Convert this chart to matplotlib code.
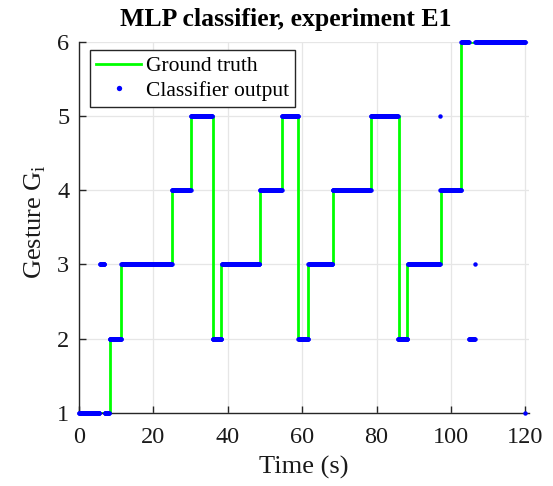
import numpy as np
import matplotlib
matplotlib.use("Agg")
import matplotlib.pyplot as plt

# ---------------- data ----------------
# ground truth gesture: switch times (s) and label held from each time
gt_times = [0, 8.2, 11.3, 25.0, 30.1, 35.9, 38.3, 48.7, 54.6, 58.9, 61.6,
            68.2, 78.5, 86.0, 88.3, 97.4, 102.8, 120.0]
gt_labels = [1, 2, 3, 4, 5, 2, 3, 4, 5, 2, 3, 4, 5, 2, 3, 4, 6]

# classifier output: change times (s) and label held from each time
clf_times = [0, 5.6, 6.9, 8.2, 11.4, 25.0, 30.1, 35.9, 38.4, 48.6, 54.6,
             59.0, 61.7, 68.2, 78.5, 85.8, 88.4, 97.05, 97.15, 102.8,
             104.85, 106.45, 106.55, 119.95]
clf_labels = [1, 3, 1, 2, 3, 4, 5, 2, 3, 4, 5, 2, 3, 4, 5, 2, 3, 5, 4, 6,
              2, 3, 6, 1]
sample_period = 0.1  # classifier output rate (s)

x_ticks = [0, 20, 40, 60, 80, 100, 120]
y_ticks = [1, 2, 3, 4, 5, 6]

# ---------------- samples of classifier ----------------
t_clf = np.arange(0, 120 + sample_period / 2, sample_period)
idx = np.searchsorted(clf_times, t_clf + 1e-9, side="right") - 1
y_clf = np.array(clf_labels)[idx]

# ---------------- figure ----------------
plt.rcParams["font.family"] = ["Liberation Serif", "DejaVu Serif"]
plt.rcParams["mathtext.fontset"] = "custom"
plt.rcParams["mathtext.rm"] = "Liberation Serif"

dark = "#262626"
fig = plt.figure(figsize=(5.53, 4.86), dpi=100)
ax = fig.add_axes([0.1429, 0.1508, 0.8137, 0.7634])

ax.step(gt_times, gt_labels + [gt_labels[-1]], where="post",
        color="#00ff00", linewidth=2.0, label="Ground truth", zorder=2)
ax.plot(t_clf, y_clf, linestyle="none", marker="o", markersize=3.2,
        color="#0000ff", markeredgewidth=0, label="Classifier output",
        zorder=3, clip_on=False)

ax.set_xlim(0, 121)
ax.set_ylim(1, 6)
ax.set_xticks(x_ticks)
ax.set_yticks(y_ticks)
ax.grid(True, color="#e6e6e6", linewidth=0.9)
ax.set_axisbelow(True)

for side in ["top", "right"]:
    ax.spines[side].set_visible(False)
for side in ["left", "bottom"]:
    ax.spines[side].set_color(dark)
    ax.spines[side].set_linewidth(1.0)

ax.tick_params(axis="both", direction="in", length=5, width=1.0,
               colors=dark, labelsize=17.5, labelcolor="#1a1a1a")
ax.tick_params(axis="x", pad=10)
ax.tick_params(axis="y", pad=7)

ax.set_xlabel("Time (s)", fontsize=19, color="#1a1a1a", labelpad=6)
ax.set_ylabel(r"Gesture G$_\mathregular{i}$", fontsize=19, color="#1a1a1a")
ax.yaxis.set_label_coords(-0.07, 0.515)
ax.set_title("MLP classifier, experiment E1", fontsize=18.5, fontweight="bold",
             x=0.46, pad=11)

leg = ax.legend(loc="upper left", bbox_to_anchor=(0.024, 0.978),
                fontsize=15.5, fancybox=False, framealpha=1,
                edgecolor=dark, borderpad=0.3, handlelength=2.1,
                handletextpad=0.2, labelspacing=0.2, markerscale=1.2,
                borderaxespad=0)
leg.get_frame().set_linewidth(1.0)

fig.savefig("out.png", dpi=100)
